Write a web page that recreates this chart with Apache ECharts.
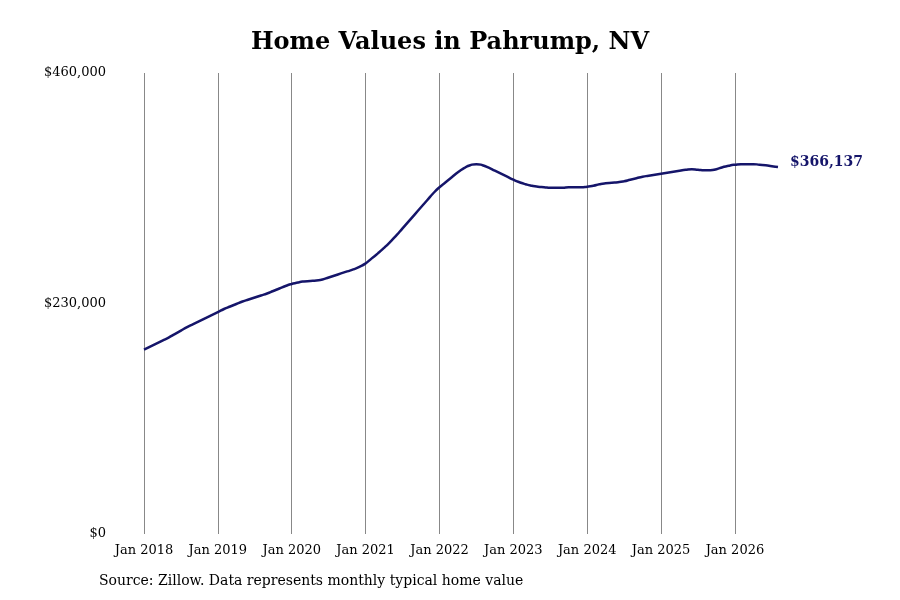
<!DOCTYPE html><html><head><meta charset="utf-8"><script src="https://cdn.jsdelivr.net/npm/echarts@6/dist/echarts.min.js"></script></head><body style="margin:0"><div id="c" style="width:900px;height:600px"></div><script>
const years=[2018,2019,2020,2021,2022,2023,2024,2025,2026];
const values=[184,187,190,193,196,199.5,203,206.5,209.5,212.5,215.5,218.5,
221.5,224.5,227,229.5,232,234,236,238,240,242.5,245,247.5,
249.5,251,252,252.5,253,254,256,258,260,262,264,266.5,
270,275,280,285.5,291.5,298,305,312,319,326,333,340,
346,351,356,361,365,368,369,368,365.5,362.5,359.5,356.5,
353.5,351,349,347.5,346.5,346,345.5,345.5,345.5,346,346,346,
346.5,347.5,349,350,350.5,351,352,353.5,355,356.5,357.5,358.5,
359.5,360.5,361.5,362.5,363.5,364,363.5,363,363,364,366,367.5,
368.5,369,369,369,368.5,368,367,366.137].map(v=>v*1000);
const months=['Jan','Feb','Mar','Apr','May','Jun','Jul','Aug','Sep','Oct','Nov','Dec'];
const cats=values.map((v,i)=>months[i%12]+' '+years[Math.floor(i/12)]);
const yTicks=[0,230000,460000];
const F='DejaVu Serif';
const ch=echarts.init(document.getElementById('c'));
ch.setOption({
title:{text:'Home Values in Pahrump, NV',left:'center',top:26,textStyle:{fontFamily:F,fontSize:24,fontWeight:'bold',color:'#000'}},
graphic:[{type:'text',left:99,top:574,style:{text:'Source: Zillow. Data represents monthly typical home value',font:'14px "DejaVu Serif"',fill:'#000'}}],
grid:{left:144,right:122,top:73,bottom:66},
xAxis:{type:'category',data:cats,boundaryGap:false,
axisLine:{show:false},axisTick:{show:false},
axisLabel:{interval:11,fontFamily:F,fontSize:13,color:'#000',margin:10},
splitLine:{show:true,interval:11,lineStyle:{color:'#888',width:1}}},
yAxis:{type:'value',min:0,max:460000,interval:230000,
axisLine:{show:false},axisTick:{show:false},splitLine:{show:false},
axisLabel:{fontFamily:F,fontSize:13,color:'#000',margin:38,formatter:v=>'$'+v.toLocaleString('en-US')}},
series:[{type:'line',data:values,smooth:0.6,showSymbol:false,
lineStyle:{color:'#15156a',width:2.5},
endLabel:{show:true,distance:12,offset:[0,-5],fontFamily:F,fontSize:14,fontWeight:'bold',color:'#15156a',formatter:p=>'$'+Math.round(p.value).toLocaleString('en-US')}}]
});
</script></body></html>
